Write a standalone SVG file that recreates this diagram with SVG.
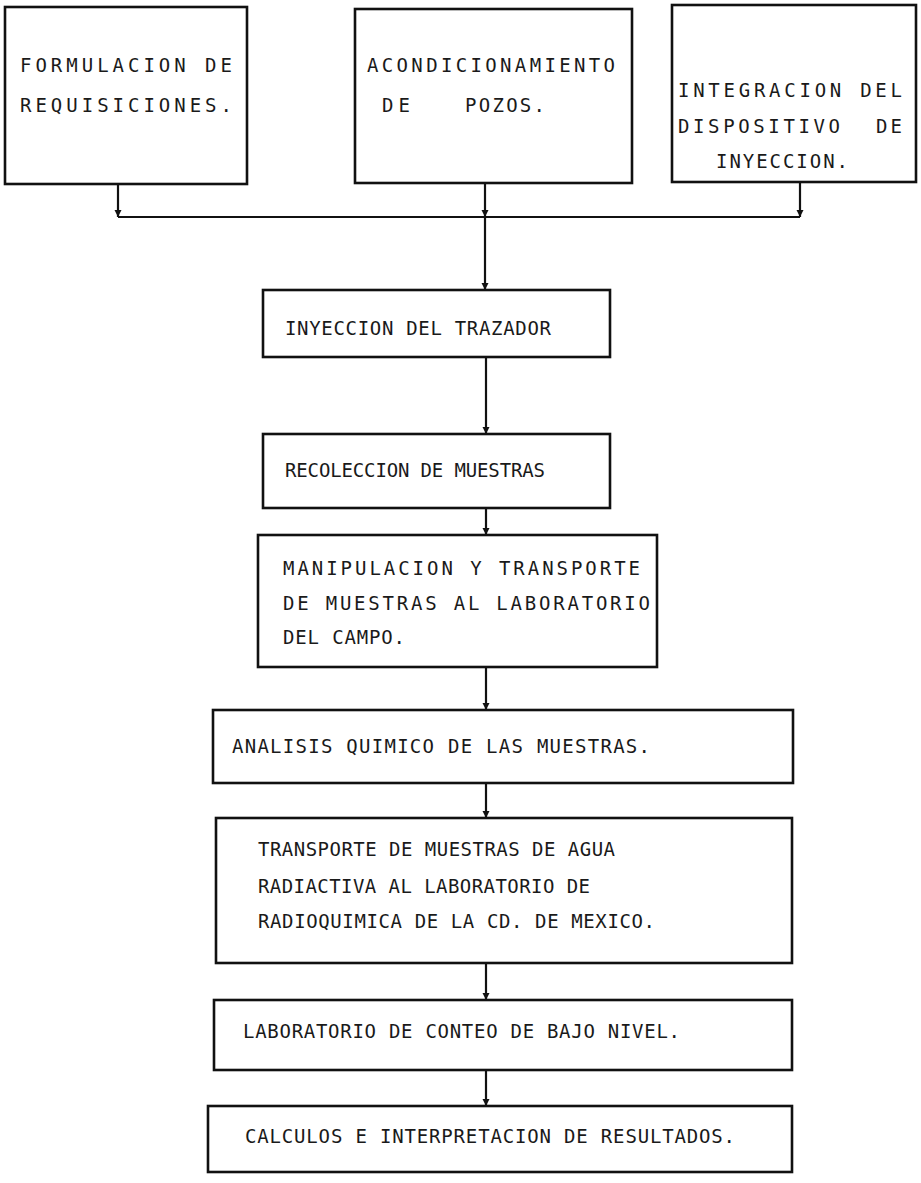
<svg xmlns="http://www.w3.org/2000/svg" width="921" height="1183" viewBox="0 0 921 1183">
<style>
.box{fill:none;stroke:#111;stroke-width:2.6}
.t{font-family:"DejaVu Sans Mono","Liberation Mono",monospace;font-size:19px;fill:#1a1a1a}
.c{fill:none;stroke:#111;stroke-width:2.2}
</style>
<defs>
<marker id="ah" markerWidth="8" markerHeight="8" refX="7.5" refY="4" orient="auto" markerUnits="userSpaceOnUse" viewBox="0 0 8 8">
<path d="M0.5,0.5 L7.5,4 L0.5,7.5 Z" fill="#111"/>
</marker>
</defs>
<rect width="921" height="1183" fill="#fff"/>
<g id="connectors">
<path class="c" d="M118,184 V217" marker-end="url(#ah)"/>
<path class="c" d="M800,182 V217" marker-end="url(#ah)"/>
<path class="c" d="M118,217 H800"/>
<path class="c" d="M485,183 V217" marker-end="url(#ah)"/>
<path class="c" d="M485,217 V290" marker-end="url(#ah)"/>
<path class="c" d="M486,357 V434" marker-end="url(#ah)"/>
<path class="c" d="M486,508 V535" marker-end="url(#ah)"/>
<path class="c" d="M486,667 V710" marker-end="url(#ah)"/>
<path class="c" d="M486,783 V818" marker-end="url(#ah)"/>
<path class="c" d="M486,963 V1000" marker-end="url(#ah)"/>
<path class="c" d="M486,1070 V1106" marker-end="url(#ah)"/>
</g>
<g id="n1">
<rect class="box" x="5" y="7" width="242" height="177"/>
<text class="t" x="20" y="72" textLength="212" lengthAdjust="spacing">FORMULACION DE</text>
<text class="t" x="20" y="112" textLength="212" lengthAdjust="spacing">REQUISICIONES.</text>
</g>
<g id="n2">
<rect class="box" x="355" y="9" width="277" height="174"/>
<text class="t" x="367" y="72" textLength="248" lengthAdjust="spacing">ACONDICIONAMIENTO</text>
<text class="t" y="112"><tspan x="382" textLength="28" lengthAdjust="spacing">DE</tspan><tspan x="465" textLength="80" lengthAdjust="spacing">POZOS.</tspan></text>
</g>
<g id="n3">
<rect class="box" x="672" y="5" width="244" height="177"/>
<text class="t" x="678" y="97" textLength="224" lengthAdjust="spacing">INTEGRACION DEL</text>
<text class="t" y="133"><tspan x="678" textLength="162" lengthAdjust="spacing">DISPOSITIVO</tspan><tspan x="876" textLength="26" lengthAdjust="spacing">DE</tspan></text>
<text class="t" x="716" y="168" textLength="132" lengthAdjust="spacing">INYECCION.</text>
</g>
<g id="n4">
<rect class="box" x="263" y="290" width="347" height="67"/>
<text class="t" x="285" y="335" textLength="266" lengthAdjust="spacing">INYECCION DEL TRAZADOR</text>
</g>
<g id="n5">
<rect class="box" x="263" y="434" width="347" height="74"/>
<text class="t" x="285" y="477" textLength="260" lengthAdjust="spacing">RECOLECCION DE MUESTRAS</text>
</g>
<g id="n6">
<rect class="box" x="258" y="535" width="399" height="132"/>
<text class="t" x="283" y="575" textLength="357" lengthAdjust="spacing">MANIPULACION Y TRANSPORTE</text>
<text class="t" x="283" y="610" textLength="367" lengthAdjust="spacing">DE MUESTRAS AL LABORATORIO</text>
<text class="t" x="283" y="644" textLength="122" lengthAdjust="spacing">DEL CAMPO.</text>
</g>
<g id="n7">
<rect class="box" x="213" y="710" width="580" height="73"/>
<text class="t" x="232" y="753" textLength="418" lengthAdjust="spacing">ANALISIS QUIMICO DE LAS MUESTRAS.</text>
</g>
<g id="n8">
<rect class="box" x="216" y="818" width="576" height="145"/>
<text class="t" x="258" y="856" textLength="357" lengthAdjust="spacing">TRANSPORTE DE MUESTRAS DE AGUA</text>
<text class="t" x="258" y="893" textLength="332" lengthAdjust="spacing">RADIACTIVA AL LABORATORIO DE</text>
<text class="t" x="258" y="928" textLength="397" lengthAdjust="spacing">RADIOQUIMICA DE LA CD. DE MEXICO.</text>
</g>
<g id="n9">
<rect class="box" x="214" y="1000" width="578" height="70"/>
<text class="t" x="243" y="1038" textLength="437" lengthAdjust="spacing">LABORATORIO DE CONTEO DE BAJO NIVEL.</text>
</g>
<g id="n10">
<rect class="box" x="208" y="1106" width="584" height="66"/>
<text class="t" x="245" y="1143" textLength="490" lengthAdjust="spacing">CALCULOS E INTERPRETACION DE RESULTADOS.</text>
</g>
</svg>
